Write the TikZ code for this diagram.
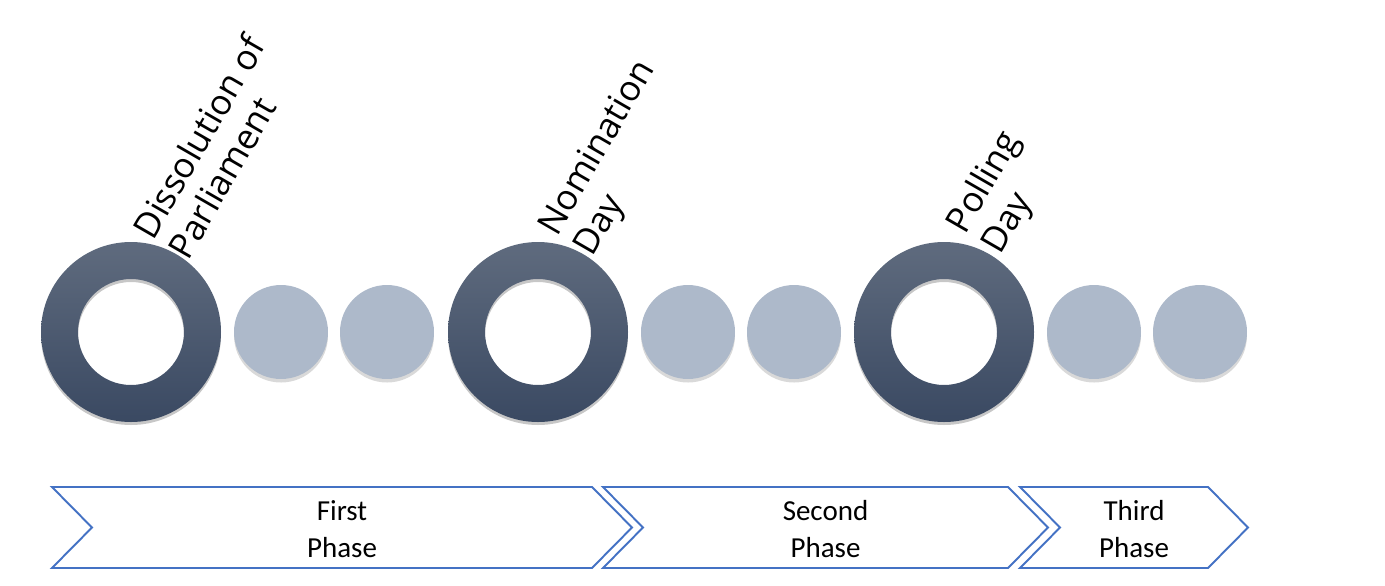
\documentclass[tikz,border=0pt]{standalone}
\usepackage{fontspec}
\setmainfont{Carlito}
\newfontfamily\labelfont{Open Sans}
\usetikzlibrary{calc,shadows}

\definecolor{ringtop}{HTML}{5F6B7E}
\definecolor{ringbot}{HTML}{3A4962}
\definecolor{dotgrey}{HTML}{ADB9CA}
\definecolor{chevblue}{HTML}{4472C4}

\begin{document}
\begin{tikzpicture}[x=0.02cm, y=-0.02cm,
  ringshade/.style={top color=ringtop, bottom color=ringbot, even odd rule},
  ringshadow/.style={fill=black, opacity=0.22, even odd rule},
  dot/.style={circle, fill=dotgrey, inner sep=0, minimum size=1.88cm,
    drop shadow={shadow xshift=0pt, shadow yshift=-2pt, opacity=0.3}},
  milestone/.style={rotate=60, anchor=south west, align=left, inner sep=0,
    font=\labelfont\fontsize{20}{23}\selectfont},
  chevron/.style={draw=chevblue, line width=1.1pt},
  phase/.style={align=center, font=\fontsize{16.5}{21}\selectfont}]
\useasboundingbox (0,0) rectangle (1385,585);

% the three milestones (shadow first, then the shaded ring)
\foreach \i/\cx in {1/131, 2/538, 3/944} {
  \coordinate (r\i) at (\cx,332);
  \fill[ringshadow] ($(r\i)+(0,3)$) circle[radius=90] ($(r\i)+(0,3)$) circle[radius=53];
  \shade[ringshade] (r\i) circle[radius=90] (r\i) circle[radius=53];
}
\node[milestone] (lab1) at ($(r1)+(58,-70)$) {Dissolution of\\Parliament};
\node[milestone] (lab2) at ($(r2)+(62,-70)$) {Nomination\\Day};
\node[milestone] (lab3) at ($(r3)+(64,-72)$) {Polling\\Day};

% small steps in between
\foreach \i/\cx in {1/281, 2/387, 3/688, 4/794, 5/1094, 6/1200}
  \node[dot] (d\i) at (\cx,332) {};

% phases along the bottom (left end, tip, text)
\foreach \i/\l/\t/\txt in {1/52/632/First\\Phase, 2/603/1048/Second\\Phase, 3/1020/1248/Third\\Phase} {
  \draw[chevron] (\l,487) -- (\t-40,487) -- (\t,527.5) -- (\t-40,568)
    -- (\l,568) -- (\l+40,527.5) -- cycle;
  \node[phase] (ph\i) at ({(\l+\t)/2},529) {\txt};
}
\end{tikzpicture}
\end{document}
